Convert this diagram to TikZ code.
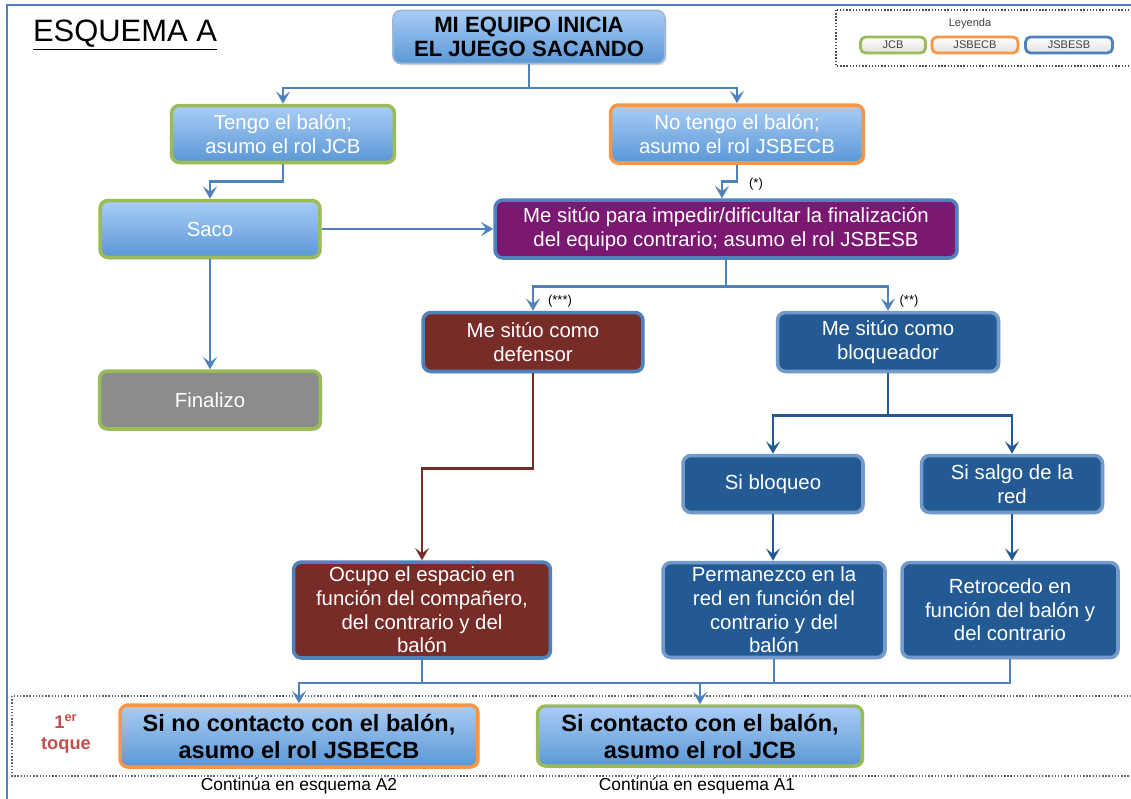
\documentclass[tikz,border=0pt]{standalone}
\usepackage{fontspec}
\setmainfont{Liberation Sans}
\usetikzlibrary{arrows.meta,shadows}
\definecolor{marco}{HTML}{4F81BD}
\definecolor{azularriba}{HTML}{A9CDF4}
\definecolor{azulabajo}{HTML}{5A97D6}
\definecolor{verdejcb}{HTML}{9BBB59}
\definecolor{naranja}{HTML}{F79646}
\definecolor{morado}{HTML}{7A1872}
\definecolor{granate}{HTML}{782C28}
\definecolor{azuloscuro}{HTML}{245A93}
\definecolor{gris}{HTML}{8C8C8C}
\definecolor{rojotoque}{HTML}{C0504D}
\begin{document}
\begin{tikzpicture}[x=0.02cm,y=-0.02cm,
  caja/.style={rounded corners=0.16cm, line width=2pt, align=center, inner sep=2pt,
    font=\fontsize{11.6}{13.4}\selectfont,
    drop shadow={opacity=0.25,shadow xshift=1pt,shadow yshift=-1pt}},
  clara/.style={caja, top color=azularriba, bottom color=azulabajo, text=white},
  negrita/.style={clara, text=black, font=\bfseries\fontsize{13.4}{15.4}\selectfont},
  oscura/.style={caja, draw=marco, text=white},
  pastilla/.style={rounded corners=0.1cm, line width=1.6pt, top color=white, bottom color=black!12,
    text=black!75, font=\fontsize{6.3}{7}\selectfont, minimum width=1.3cm, minimum height=0.32cm, inner sep=0pt},
  flecha/.style={line width=1.5pt, draw=marco, -{Stealth[length=7pt,width=8pt,inset=3pt]}},
  linea/.style={line width=1.5pt, draw=marco},
  nota/.style={font=\fontsize{7.4}{8}\selectfont}
]
\useasboundingbox (0,0) rectangle (1131,798);
% marco y titulo
\draw[marco, line width=1.2pt] (7,800) -- (7,5) -- (1135,5);
\node (titulo) at (125,35) {\fontsize{17.6}{20}\selectfont\underline{ESQUEMA A}};
% leyenda
\draw[densely dotted, black!70, line width=0.8pt] (836,10) rectangle (1140,66);
\node[font=\fontsize{6.3}{7}\selectfont, text=black!75] (leyenda) at (970,24) {Leyenda};
\node[pastilla, draw=verdejcb] (lgjcb) at (893,45) {JCB};
\node[pastilla, draw=naranja, minimum width=1.72cm] (lgjsbecb) at (975,45) {JSBECB};
\node[pastilla, draw=marco, minimum width=1.74cm] (lgjsbesb) at (1069,45) {JSBESB};
% primer toque
\draw[densely dotted, black!60, line width=0.8pt] (12,696) rectangle (1140,776);
\node[text=rojotoque, font=\bfseries\fontsize{10.4}{12}\selectfont, align=center] (toque) at (66,734) {1\textsuperscript{er}\\toque};

% cajas
\node[negrita, draw=marco!55, line width=1pt, font=\bfseries\fontsize{12.6}{13.8}\selectfont, minimum width=5.44cm, minimum height=1.06cm] (inicio) at (529,37) {MI EQUIPO INICIA\\EL JUEGO SACANDO};
\node[clara, draw=verdejcb, minimum width=4.46cm, minimum height=1.14cm] (tengo) at (283,134) {Tengo el balón;\\asumo el rol JCB};
\node[clara, draw=naranja, minimum width=5.06cm, minimum height=1.16cm] (notengo) at (737,134) {No tengo el balón;\\asumo el rol JSBECB};
\node[clara, draw=verdejcb, minimum width=4.40cm, minimum height=1.14cm] (saco) at (210,229) {Saco};
\node[oscura, fill=morado, minimum width=9.24cm, minimum height=1.16cm] (impedir) at (726,229) {Me sitúo para impedir/dificultar la finalización\\del equipo contrario; asumo el rol JSBESB};
\node[oscura, fill=granate, minimum width=4.40cm, minimum height=1.18cm] (defensor) at (533,342) {Me sitúo como\\defensor};
\node[oscura, fill=azuloscuro, draw=marco!80, minimum width=4.42cm, minimum height=1.18cm] (bloqueador) at (888,342) {Me sitúo como\\bloqueador};
\node[caja, fill=gris, draw=verdejcb, text=white, minimum width=4.42cm, minimum height=1.16cm] (finalizo) at (210,400) {Finalizo};
\node[oscura, fill=azuloscuro, draw=marco!80, minimum width=3.60cm, minimum height=1.14cm] (sibloqueo) at (773,484) {Si bloqueo};
\node[oscura, fill=azuloscuro, draw=marco!80, minimum width=3.62cm, minimum height=1.14cm] (sisalgo) at (1012,484) {Si salgo de la\\red};
\node[oscura, fill=granate, minimum width=5.14cm, minimum height=1.92cm] (ocupo) at (422,610) {Ocupo el espacio en\\función del compañero,\\del contrario y del\\balón};
\node[oscura, fill=azuloscuro, draw=marco!80, minimum width=4.44cm, minimum height=1.90cm] (permanezco) at (774,610) {Permanezco en la\\red en función del\\contrario y del\\balón};
\node[oscura, fill=azuloscuro, draw=marco!80, minimum width=4.32cm, minimum height=1.90cm] (retrocedo) at (1010,610) {Retrocedo en\\función del balón y\\del contrario};
\node[negrita, draw=naranja, minimum width=7.16cm, minimum height=1.24cm] (nocontacto) at (299,736) {Si no contacto con el balón,\\asumo el rol JSBECB};
\node[negrita, draw=verdejcb, minimum width=6.50cm, minimum height=1.20cm] (contacto) at (700,736) {Si contacto con el balón,\\asumo el rol JCB};
\node[font=\fontsize{9.9}{11}\selectfont] (siguea2) at (299,786) {Continúa en esquema A2};
\node[font=\fontsize{9.9}{11}\selectfont] (siguea1) at (697,786) {Continúa en esquema A1};

% conectores
\coordinate (bus1) at (529,88);
\draw[flecha] (inicio.south) -- (bus1) -| (tengo.north);
\draw[flecha] (inicio.south) -- (bus1) -| (notengo.north);
\draw[flecha] (tengo.south) -- ++(0,17) -| (saco.north);
\draw[flecha] (saco.east) -- (impedir.west);
\draw[flecha] (saco.south) -- (finalizo.north);
\draw[flecha] (notengo.south) -- ++(0,17) -| ([xshift=-0.08cm]impedir.north);
\node[nota] (n1) at (756,184) {(*)};
\draw[flecha] (impedir.south) -- ++(0,27) -| (defensor.north);
\draw[flecha] (impedir.south) -- ++(0,27) -| (bloqueador.north);
\node[nota] (n3) at (560,301) {(***)};
\node[nota] (n2) at (909,301) {(**)};
\draw[flecha, draw=granate] (defensor.south) -- ++(0,95) -| (ocupo.north);
\draw[flecha, draw=azuloscuro] (bloqueador.south) -- ++(0,42) -| (sibloqueo.north);
\draw[flecha, draw=azuloscuro] (bloqueador.south) -- ++(0,42) -| (sisalgo.north);
\draw[flecha, draw=azuloscuro] (sibloqueo.south) -- (sibloqueo.south |- permanezco.north);
\draw[flecha, draw=azuloscuro] (sisalgo.south) -- (sisalgo.south |- retrocedo.north);
\coordinate (bus2) at (700,683);
\draw[flecha] (ocupo.south) |- (bus2) -| (nocontacto.north);
\draw[flecha] (ocupo.south) |- (bus2) -- (contacto.north);
\draw[linea] (permanezco.south) -- (permanezco.south |- bus2);
\draw[linea] (retrocedo.south) |- (bus2);
\end{tikzpicture}
\end{document}
